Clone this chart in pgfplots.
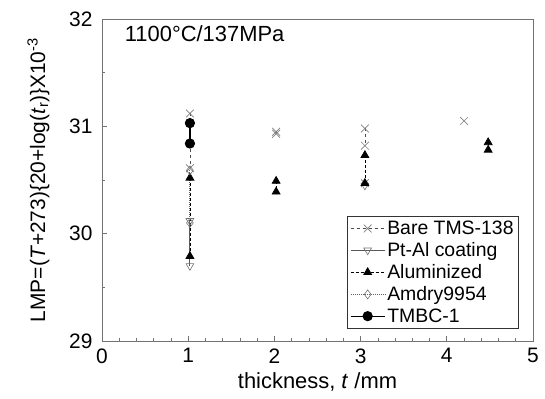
\documentclass[border=0pt]{standalone}
\usepackage{pgfplots}
\pgfplotsset{compat=1.18}
\usepackage{fontspec}
\setmainfont{Liberation Sans}
\begin{document}
\begin{tikzpicture}
\path[use as bounding box] (-102bp,-58bp) rectangle (443bp,341bp);
\begin{axis}[
  at={(0,0)}, anchor=south west,
  scale only axis, width=431bp, height=322bp,
  xmin=0, xmax=5, ymin=29, ymax=32,
  xtick={0,1,2,3,4,5}, ytick={29,30,31,32},
  minor x tick num=4, minor y tick num=1,
  tick align=inside, tick pos=left,
  major tick length=5bp, minor tick length=3bp,
  axis line style={black!55, line width=0.8pt},
  tick style={black!55, line width=0.6pt},
  /pgf/number format/assume math mode=true,
  ticklabel style={font=\fontsize{21}{24}\selectfont},
  xticklabel style={yshift=-4bp},
  yticklabel style={xshift=-6bp},
  xlabel={thickness, \textit{t} /mm},
  xlabel style={font=\fontsize{22}{26}\selectfont, yshift=-2bp},
  ylabel={LMP=(\textit{T}+273)\{20+log(\textit{t}\textsubscript{r})\}X10\textsuperscript{-3}},
  ylabel style={font=\fontsize{21}{24}\selectfont, yshift=13bp},
  unbounded coords=jump,
  legend cell align=left,
  legend image code/.code={\draw[mark repeat=2,mark phase=2,#1] plot coordinates {(0bp,0bp) (17bp,0bp) (34bp,0bp)};},
  legend style={at={(rel axis cs:0.9675,0.037)}, anchor=south east,
    font=\fontsize{19.5}{22}\selectfont, draw=black!80, line width=0.8pt,
    row sep=2.5bp, inner sep=3bp},
]
\node[anchor=west, font=\fontsize{22}{26}\selectfont] at (rel axis cs:0.045,0.953) {1100°C/137MPa};

\addplot[black!70, dashed, line width=0.6pt, mark=x, mark size=5.5bp,
  mark options={solid, draw=black!50, line width=0.7pt}] coordinates {
  (1.02,31.12) (1.02,30.61) (1.02,nan)
  (2.02,30.95) (2.02,30.93) (2.02,nan)
  (3.05,30.98) (3.05,30.82) (3.05,nan)
  (3.05,30.47) (3.05,nan)
  (4.20,31.05)
};
\addlegendentry{Bare TMS-138}

\addplot[black!65, solid, line width=1pt, mark=triangle, mark size=4.5bp,
  mark options={solid, rotate=180, draw=black!55, fill=white, line width=0.6pt}] coordinates {
  (1.02,30.12) (1.02,29.70) (1.02,nan)
  (3.05,30.45)
};
\addlegendentry{Pt-Al coating}

\addplot[black, densely dashed, line width=0.8pt, mark=triangle*, mark size=4.5bp,
  mark options={solid, fill=black}] coordinates {
  (1.02,30.52) (1.02,29.79) (1.02,nan)
  (2.02,30.49) (2.02,30.39) (2.02,nan)
  (3.05,30.73) (3.05,30.47) (3.05,nan)
  (4.48,30.85) (4.48,30.78)
};
\addlegendentry{Aluminized}

\addplot[black!60, densely dotted, line width=1pt, mark=diamond, mark size=4.5bp,
  mark options={solid, draw=black!55, fill=white, line width=0.6pt}] coordinates {
  (1.02,30.59) (1.02,30.10)
};
\addlegendentry{Amdry9954}

\addplot[black, solid, line width=1.2pt, mark=*, mark size=4.5bp,
  mark options={solid, fill=black}] coordinates {
  (1.02,31.03) (1.02,30.84)
};
\addlegendentry{TMBC-1}
\end{axis}
\end{tikzpicture}
\end{document}
